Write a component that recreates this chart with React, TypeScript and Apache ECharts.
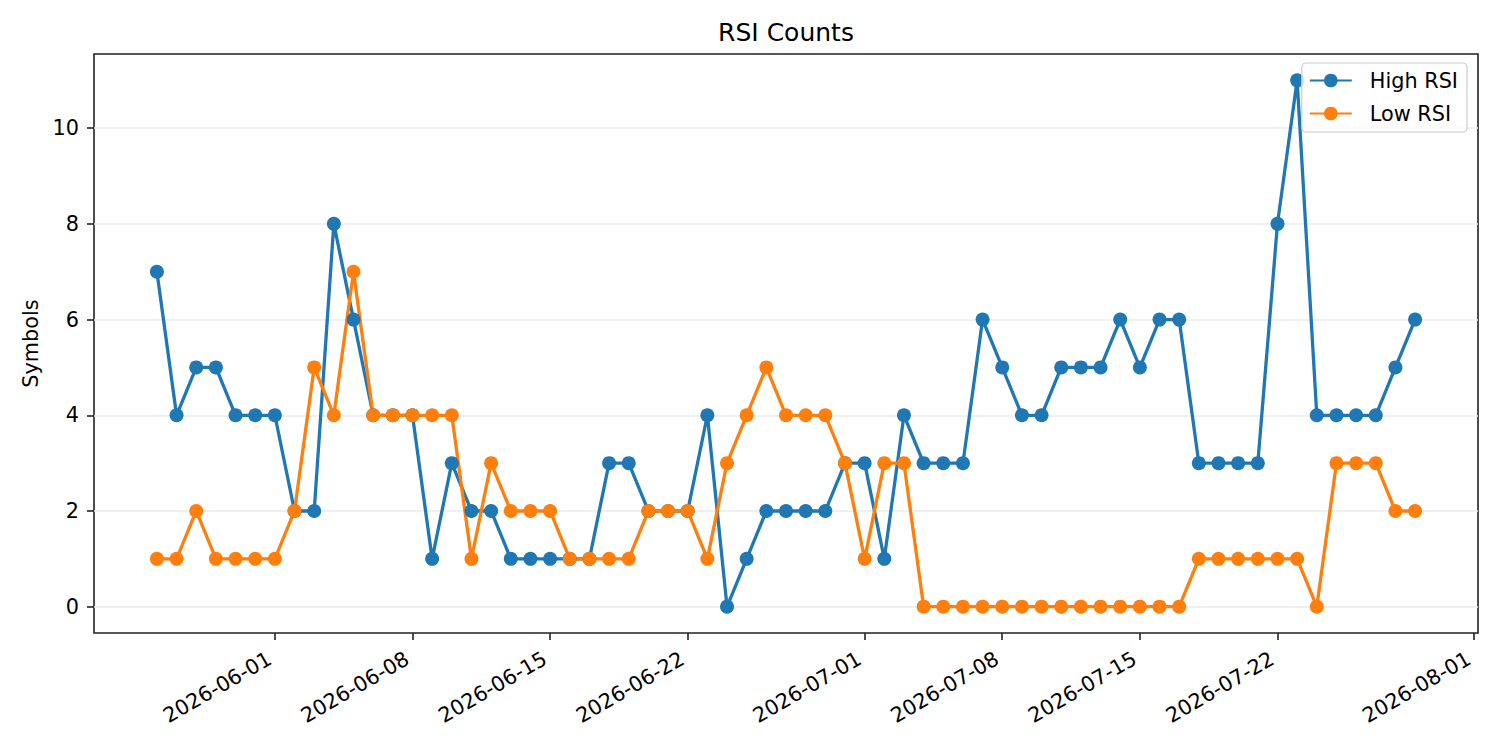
import React, { useEffect, useRef } from 'react';
import * as echarts from 'echarts';

const dates = [
  '2026-05-26', '2026-05-27', '2026-05-28', '2026-05-29', '2026-05-30', '2026-05-31',
  '2026-06-01', '2026-06-02', '2026-06-03', '2026-06-04', '2026-06-05', '2026-06-06', '2026-06-07',
  '2026-06-08', '2026-06-09', '2026-06-10', '2026-06-11', '2026-06-12', '2026-06-13', '2026-06-14',
  '2026-06-15', '2026-06-16', '2026-06-17', '2026-06-18', '2026-06-19', '2026-06-20', '2026-06-21',
  '2026-06-22', '2026-06-23', '2026-06-24', '2026-06-25', '2026-06-26', '2026-06-27', '2026-06-28',
  '2026-06-29', '2026-06-30',
  '2026-07-01', '2026-07-02', '2026-07-03', '2026-07-04', '2026-07-05', '2026-07-06', '2026-07-07',
  '2026-07-08', '2026-07-09', '2026-07-10', '2026-07-11', '2026-07-12', '2026-07-13', '2026-07-14',
  '2026-07-15', '2026-07-16', '2026-07-17', '2026-07-18', '2026-07-19', '2026-07-20', '2026-07-21',
  '2026-07-22', '2026-07-23', '2026-07-24', '2026-07-25', '2026-07-26', '2026-07-27', '2026-07-28',
  '2026-07-29',
];

const highRsi = [
  7, 4, 5, 5, 4, 4,
  4, 2, 2, 8, 6, 4, 4,
  4, 1, 3, 2, 2, 1, 1,
  1, 1, 1, 3, 3, 2, 2,
  2, 4, 0, 1, 2, 2, 2,
  2, 3,
  3, 1, 4, 3, 3, 3, 6,
  5, 4, 4, 5, 5, 5, 6,
  5, 6, 6, 3, 3, 3, 3,
  8, 11, 4, 4, 4, 4, 5,
  6,
];

const lowRsi = [
  1, 1, 2, 1, 1, 1,
  1, 2, 5, 4, 7, 4, 4,
  4, 4, 4, 1, 3, 2, 2,
  2, 1, 1, 1, 1, 2, 2,
  2, 1, 3, 4, 5, 4, 4,
  4, 3,
  1, 3, 3, 0, 0, 0, 0,
  0, 0, 0, 0, 0, 0, 0,
  0, 0, 0, 1, 1, 1, 1,
  1, 1, 0, 3, 3, 3, 2,
  2,
];

const xTickLabels = [
  '2026-06-01', '2026-06-08', '2026-06-15', '2026-06-22',
  '2026-07-01', '2026-07-08', '2026-07-15', '2026-07-22', '2026-08-01',
];

const yTicks = [0, 2, 4, 6, 8, 10];

const toDay = (s: string) => {
  const [y, m, d] = s.split('-').map(Number);
  return Date.UTC(y, m - 1, d) / 86400000;
};
const fmtDay = (v: number) => new Date(Math.round(v) * 86400000).toISOString().slice(0, 10);

export default function App() {
  const ref = useRef<HTMLDivElement>(null);
  useEffect(() => {
    const chart = echarts.init(ref.current!, null, { renderer: 'svg' });
    const font = 'DejaVu Sans';
    const xs = dates.map(toDay);
    const span = xs[xs.length - 1] - xs[0];
    const xMin = xs[0] - span * 0.05;
    const xMax = xs[xs.length - 1] + span * 0.05;
    const xTicks = xTickLabels.map(toDay);
    const tickLine = { color: '#222', width: 1.6 };

    chart.setOption({
      animation: false,
      backgroundColor: '#fff',
      textStyle: { fontFamily: font },
      title: {
        text: 'RSI Counts',
        left: 786,
        top: 20,
        padding: 0,
        textAlign: 'center',
        textStyle: { fontSize: 25, fontWeight: 'normal', color: '#000', fontFamily: font },
      },
      legend: {
        data: ['High RSI', 'Low RSI'],
        orient: 'vertical',
        right: 33,
        top: 63,
        itemWidth: 42,
        itemHeight: 17,
        itemGap: 12,
        padding: [7, 9, 8, 7],
        backgroundColor: 'rgba(255,255,255,0.8)',
        borderColor: '#cccccc',
        borderWidth: 1.2,
        borderRadius: 4,
        textStyle: { fontSize: 20.8, color: '#000', fontFamily: font, padding: [0, 0, 0, 13] },
      },
      grid: {
        left: 94,
        top: 54,
        right: 22,
        bottom: 117,
        show: true,
        borderColor: '#222',
        borderWidth: 1.6,
        backgroundColor: 'transparent',
      },
      xAxis: {
        type: 'value',
        min: xMin,
        max: xMax,
        axisLine: { show: false, onZero: false },
        splitLine: { show: false },
        axisTick: { show: true, length: 7, lineStyle: tickLine, customValues: xTicks },
        axisLabel: {
          customValues: xTicks,
          rotate: 30,
          fontSize: 20.8,
          color: '#000',
          fontFamily: font,
          margin: 21,
          padding: [0, 6, 0, 0],
          formatter: (v: number) => fmtDay(v),
        },
      },
      yAxis: {
        type: 'value',
        min: -0.55,
        max: 11.55,
        name: 'Symbols',
        nameLocation: 'middle',
        nameGap: 50,
        nameTextStyle: { fontSize: 20.8, color: '#000', fontFamily: font },
        axisLine: { show: false, onZero: false },
        axisTick: { show: true, length: 7, lineStyle: tickLine, customValues: yTicks },
        axisLabel: { customValues: yTicks, fontSize: 20.8, color: '#000', fontFamily: font, margin: 15 },
        splitLine: { show: true, lineStyle: { color: '#ebebeb', width: 1.6 } },
      },
      series: [
        {
          name: 'High RSI',
          type: 'line',
          data: xs.map((x, i) => [x, highRsi[i]]),
          symbol: 'circle',
          symbolSize: 14,
          showAllSymbol: true,
          lineStyle: { width: 3.3, color: '#1f77b4' },
          itemStyle: { color: '#1f77b4' },
          emphasis: { disabled: true },
        },
        {
          name: 'Low RSI',
          type: 'line',
          data: xs.map((x, i) => [x, lowRsi[i]]),
          symbol: 'circle',
          symbolSize: 14,
          showAllSymbol: true,
          lineStyle: { width: 3.3, color: '#ff7f0e' },
          itemStyle: { color: '#ff7f0e' },
          emphasis: { disabled: true },
        },
      ],
    });
    return () => chart.dispose();
  }, []);
  return (
    <div
      ref={ref}
      style={{ position: 'fixed', left: 0, top: 0, width: 1500, height: 750, background: '#fff' }}
    />
  );
}
